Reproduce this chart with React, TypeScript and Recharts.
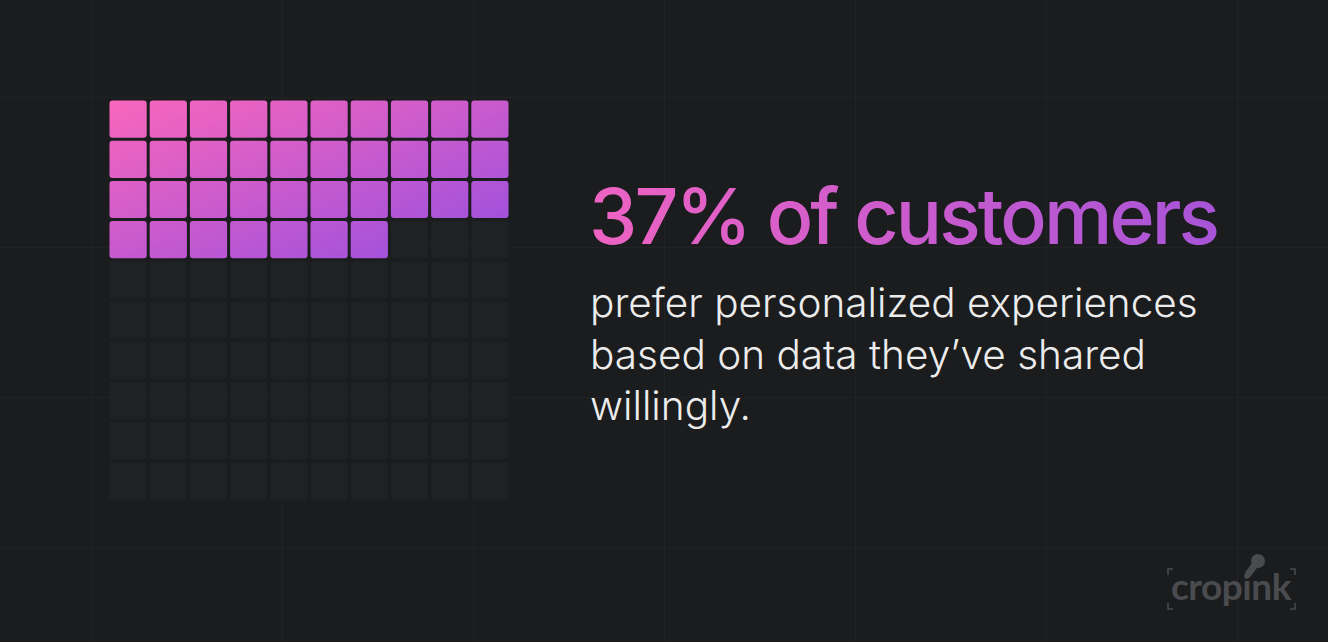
import { ScatterChart, Scatter, XAxis, YAxis } from "recharts";

// waffle: 10 x 10 grid, share of filled cells in percent
const COLS = 10;
const ROWS = 10;
const share = 37;

const headline = "37% of customers";
const bodyLines = [
  "prefer personalized experiences",
  "based on data they’ve shared",
  "willingly.",
];
const brand = "cropink";

const cells = Array.from({ length: COLS * ROWS }, (_, i) => ({
  col: (i % COLS) + 0.5,
  row: Math.floor(i / COLS) + 0.5,
  filled: i < share,
}));

const W = 1328;
const H = 642;
const BG = "#1b1c1e";
const EMPTY = "#1f2225";
const PLOT = { left: 108, top: 99, size: 402 };
const GAP = 3;

const vLines = [92, 282, 473, 664, 855, 1046, 1237];
const hLines = [97, 247, 397, 548];

function WaffleCell(props: any) {
  const { cx, cy, payload } = props;
  const s = PLOT.size / COLS - GAP;
  return (
    <rect
      x={cx - s / 2}
      y={cy - s / 2}
      width={s}
      height={s}
      rx={3}
      ry={3}
      fill={payload.filled ? "url(#waffleFill)" : EMPTY}
    />
  );
}

export default function App() {
  return (
    <div style={{ position: "absolute", left: 0, top: 0, width: W, height: H, background: BG, overflow: "hidden" }}>
      <svg width={W} height={H} style={{ position: "absolute", left: 0, top: 0 }}>
        <defs>
          <linearGradient id="waffleFill" gradientUnits="userSpaceOnUse" x1={109} y1={100} x2={200} y2={340}>
            <stop offset="0" stopColor="#f966bc" />
            <stop offset="1" stopColor="#a151dc" />
          </linearGradient>
          <linearGradient id="headFill" gradientUnits="userSpaceOnUse" x1={590} y1={185} x2={1215} y2={250}>
            <stop offset="0" stopColor="#ee63c2" />
            <stop offset="1" stopColor="#a854d8" />
          </linearGradient>
        </defs>
        {vLines.map((x) => (
          <line key={"v" + x} x1={x + 0.5} x2={x + 0.5} y1={0} y2={H} stroke="#212225" strokeWidth={1} />
        ))}
        {hLines.map((y) => (
          <line key={"h" + y} x1={0} x2={W} y1={y + 0.5} y2={y + 0.5} stroke="#212225" strokeWidth={1} />
        ))}
      </svg>

      <div style={{ position: "absolute", left: 0, top: 0 }}>
        <ScatterChart
          width={W}
          height={H}
          margin={{ top: PLOT.top, left: PLOT.left, right: W - PLOT.left - PLOT.size, bottom: H - PLOT.top - PLOT.size }}
        >
          <XAxis type="number" dataKey="col" domain={[0, COLS]} hide />
          <YAxis type="number" dataKey="row" domain={[0, ROWS]} reversed hide />
          <Scatter data={cells} shape={<WaffleCell />} isAnimationActive={false} />
        </ScatterChart>
      </div>

      <svg width={W} height={H} style={{ position: "absolute", left: 0, top: 0 }}>
        <text
          x={589}
          y={244}
          fill="url(#headFill)"
          fontFamily="Inter, sans-serif"
          fontWeight={500}
          fontSize={77}
          letterSpacing={-2.9}
        >
          {headline}
        </text>
        {bodyLines.map((line, i) => (
          <text
            key={i}
            x={590}
            y={317 + i * 51.5}
            fill="#ececec"
            fontFamily="Inter, sans-serif"
            fontWeight={300}
            fontSize={40.5}
            letterSpacing={0}
          >
            {line}
          </text>
        ))}

        <g fill="#4a4b4e" stroke="#4a4b4e">
          <text x={1171} y={600} stroke="none" fontFamily="Lato, sans-serif" fontWeight={700} fontSize={37} letterSpacing={-0.5}>
            {brand}
          </text>
          <circle cx={1258} cy={561} r={7} stroke="none" />
          <line x1={1249} y1={573} x2={1257} y2={562} strokeWidth={7} strokeLinecap="round" />
          <path d="M1168 575 V569 H1173 M1290 569 H1295 V575 M1168 603 V609 H1173 M1290 609 H1295 V603" fill="none" strokeWidth={1.5} />
        </g>
      </svg>
    </div>
  );
}
